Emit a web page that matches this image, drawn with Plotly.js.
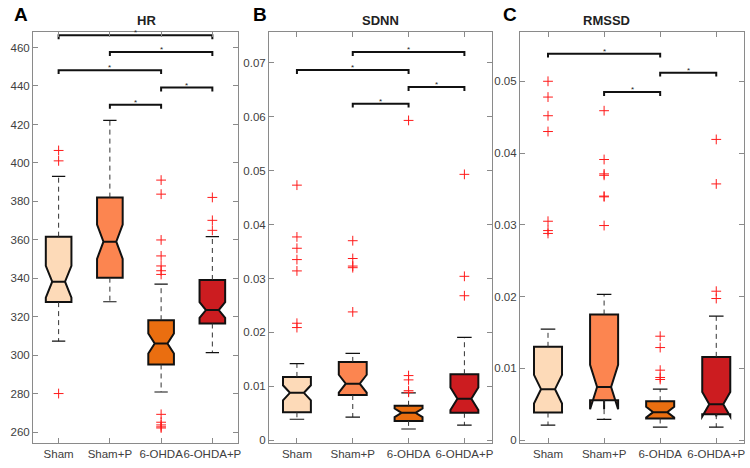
<!DOCTYPE html>
<html><head><meta charset="utf-8">
<script src="https://cdn.plot.ly/plotly-3.0.1.min.js"></script>
<style>html,body{margin:0;padding:0;background:#fff}#chart{width:750px;height:468px}</style>
</head><body><div id="chart"></div>
<script>
const categories = ['Sham', 'Sham+P', '6-OHDA', '6-OHDA+P'];

// ---- HR ----
const hrQ1 = [327.7, 340.4, 295.3, 316.6];
const hrMedian = [338.3, 359.1, 306.2, 323.6];
const hrQ3 = [361.7, 382.0, 318.3, 339.2];
const hrNotchSpan = [8.3, 8.9, 5.2, 4.1];
const hrLowerWhisker = [307.4, 327.9, 281.0, 301.5];
const hrUpperWhisker = [393.0, 422.1, 337.1, 361.7];
const hrOutliers = [
  [406.5, 401.1, 280.2],
  [],
  [391.1, 383.8, 360.0, 351.7, 346.5, 344.0, 342.1, 269.4, 265.3, 263.9, 262.9, 262.3],
  [382.1, 370.2, 365.0]
];
const hrBracketFrom = [0, 1, 0, 2, 1];
const hrBracketTo = [3, 3, 2, 3, 2];
const hrBracketLevel = [466.3, 457.6, 448.2, 439.2, 430.2];

// ---- SDNN ----
const sdnnQ1 = [0.0052, 0.0084, 0.0036, 0.0051];
const sdnnMedian = [0.0088, 0.0105, 0.0051, 0.0077];
const sdnnQ3 = [0.01175, 0.01453, 0.0064, 0.01225];
const sdnnNotchSpan = [0.0014, 0.00165, 0.0008, 0.0021];
const sdnnLowerWhisker = [0.0039, 0.0043, 0.0021, 0.0028];
const sdnnUpperWhisker = [0.0142, 0.0161, 0.0088, 0.0191];
const sdnnOutliers = [
  [0.0473, 0.0377, 0.0356, 0.0335, 0.0314, 0.0217, 0.0209],
  [0.0370, 0.0337, 0.0323, 0.0320, 0.0238],
  [0.0593, 0.0120, 0.0112, 0.0092, 0.0089],
  [0.0493, 0.0304, 0.0268]
];
const sdnnBracketFrom = [1, 0, 2, 1];
const sdnnBracketTo = [3, 2, 3, 2];
const sdnnBracketLevel = [0.07196, 0.06863, 0.06548, 0.0624];

// ---- RMSSD ----
const rmssdQ1 = [0.00385, 0.00557, 0.00302, 0.00362];
const rmssdMedian = [0.0071, 0.0074, 0.0039, 0.0050];
const rmssdQ3 = [0.0130, 0.0175, 0.00543, 0.0116];
const rmssdNotchSpan = [0.0020, 0.0031, 0.00074, 0.0017];
const rmssdLowerWhisker = [0.0021, 0.0029, 0.0018, 0.0018];
const rmssdUpperWhisker = [0.01546, 0.0203, 0.0071, 0.01727];
const rmssdOutliers = [
  [0.0500, 0.0478, 0.0452, 0.0430, 0.0305, 0.0292, 0.0288],
  [0.0459, 0.0391, 0.0371, 0.0369, 0.0340, 0.0339, 0.0299],
  [0.01448, 0.0129, 0.00975, 0.00873, 0.00845],
  [0.0419, 0.0357, 0.02075, 0.01973]
];
const rmssdBracketFrom = [0, 2, 1];
const rmssdBracketTo = [2, 3, 2];
const rmssdBracketLevel = [0.05385, 0.0512, 0.0485];

const boxColors = ['#FDDAB8', '#FC8550', '#EA6E10', '#CC1C20'];

const panels = [
  {ax: '', title: 'HR', letter: 'A', q1: hrQ1, med: hrMedian, q3: hrQ3, ns: hrNotchSpan, lw: hrLowerWhisker, uw: hrUpperWhisker, out: hrOutliers,
   bf: hrBracketFrom, bt: hrBracketTo, bl: hrBracketLevel, range: [254.5, 467.8], tickvals: [260,280,300,320,340,360,380,400,420,440,460],
   xdom: [0.044, 0.3173], letterX: 0.016},
  {ax: '2', title: 'SDNN', letter: 'B', q1: sdnnQ1, med: sdnnMedian, q3: sdnnQ3, ns: sdnnNotchSpan, lw: sdnnLowerWhisker, uw: sdnnUpperWhisker, out: sdnnOutliers,
   bf: sdnnBracketFrom, bt: sdnnBracketTo, bl: sdnnBracketLevel, range: [-0.0005, 0.0756], tickvals: [0,0.01,0.02,0.03,0.04,0.05,0.06,0.07],
   xdom: [0.3587, 0.6564], letterX: 0.334},
  {ax: '3', title: 'RMSSD', letter: 'C', q1: rmssdQ1, med: rmssdMedian, q3: rmssdQ3, ns: rmssdNotchSpan, lw: rmssdLowerWhisker, uw: rmssdUpperWhisker, out: rmssdOutliers,
   bf: rmssdBracketFrom, bt: rmssdBracketTo, bl: rmssdBracketLevel, range: [-0.0004, 0.0568], tickvals: [0,0.01,0.02,0.03,0.04,0.05],
   xdom: [0.6933, 0.9924], letterX: 0.668}
];

const traces = [];
const annotations = [];
const layout = {
  width: 750, height: 468, margin: {l: 0, r: 0, t: 0, b: 0},
  paper_bgcolor: '#fff', plot_bgcolor: '#fff', showlegend: false,
  font: {family: 'Liberation Sans, Arial, sans-serif', color: '#404040'},
  annotations: annotations
};
const ydom = [0.0534, 0.9306];

panels.forEach(p => {
  const xa = 'x' + p.ax, ya = 'y' + p.ax;
  const span = p.range[1] - p.range[0];
  const capHalf = 0.13;
  for (let i = 0; i < categories.length; i++) {
    traces.push({
      type: 'box', xaxis: xa, yaxis: ya, x: [i],
      q1: [p.q1[i]], median: [p.med[i]], q3: [p.q3[i]],
      lowerfence: [p.q1[i]], upperfence: [p.q3[i]],
      notched: true, notchspan: [p.ns[i]], notchwidth: 0.25,
      width: 0.5, whiskerwidth: 0, boxpoints: false,
      fillcolor: boxColors[i], line: {color: '#111', width: 2}, hoverinfo: 'skip'
    });
  }
  // whiskers (dashed)
  const wx = [], wy = [], cx = [], cy = [];
  for (let i = 0; i < categories.length; i++) {
    wx.push(i, i, null, i, i, null);
    wy.push(p.q3[i], p.uw[i], null, p.q1[i], p.lw[i], null);
    cx.push(i - capHalf, i + capHalf, null, i - capHalf, i + capHalf, null);
    cy.push(p.uw[i], p.uw[i], null, p.lw[i], p.lw[i], null);
  }
  traces.push({type: 'scatter', mode: 'lines', xaxis: xa, yaxis: ya, x: wx, y: wy,
    line: {color: '#333', width: 1, dash: '5px,4px'}, hoverinfo: 'skip'});
  traces.push({type: 'scatter', mode: 'lines', xaxis: xa, yaxis: ya, x: cx, y: cy,
    line: {color: '#111', width: 1.2}, hoverinfo: 'skip'});
  // outliers
  const ox = [], oy = [];
  p.out.forEach((arr, i) => arr.forEach(v => { ox.push(i); oy.push(v); }));
  traces.push({type: 'scatter', mode: 'markers', xaxis: xa, yaxis: ya, x: ox, y: oy,
    marker: {symbol: 'cross-thin-open', size: 7, color: '#ff1a1a', line: {color: '#ff1a1a', width: 1}}, hoverinfo: 'skip'});
  // brackets
  const bx = [], by = [];
  const drop = span * 0.0095;
  for (let k = 0; k < p.bf.length; k++) {
    const a = p.bf[k], b = p.bt[k], l = p.bl[k];
    bx.push(a, a, b, b, null);
    by.push(l - drop, l, l, l - drop, null);
    annotations.push({xref: xa, yref: ya, x: (a + b) / 2, y: l, text: '*', showarrow: false,
      yanchor: 'bottom', yshift: -4, font: {size: 8, color: '#222'}});
  }
  traces.push({type: 'scatter', mode: 'lines', xaxis: xa, yaxis: ya, x: bx, y: by,
    line: {color: '#111', width: 2}, hoverinfo: 'skip'});

  const axCommon = {showline: true, linecolor: '#8a8a8a', linewidth: 1, mirror: 'ticks', ticks: 'inside',
    ticklen: 5, tickcolor: '#8a8a8a', showgrid: false, zeroline: false, tickfont: {size: 11.5, color: '#404040'}};
  layout['xaxis' + p.ax] = Object.assign({}, axCommon, {domain: p.xdom, anchor: ya, range: [-0.5, 3.5],
    tickmode: 'array', tickvals: [0, 1, 2, 3], ticktext: categories, tickangle: 0});
  layout['yaxis' + p.ax] = Object.assign({}, axCommon, {domain: ydom, anchor: xa, range: p.range,
    tickmode: 'array', tickvals: p.tickvals, ticktext: p.tickvals.map(v => String(v))});
  annotations.push({xref: 'paper', yref: 'paper', x: (p.xdom[0] + p.xdom[1]) / 2, y: 1 - 21 / 468,
    text: '<b>' + p.title + '</b>', showarrow: false, font: {size: 13, color: '#222'}, yanchor: 'middle'});
  annotations.push({xref: 'paper', yref: 'paper', x: p.letterX, y: 1 - 14 / 468, xanchor: 'left',
    text: '<b>' + p.letter + '</b>', showarrow: false, font: {size: 19, color: '#000'}, yanchor: 'middle'});
});

Plotly.newPlot('chart', traces, layout, {staticPlot: true});
</script></body></html>
